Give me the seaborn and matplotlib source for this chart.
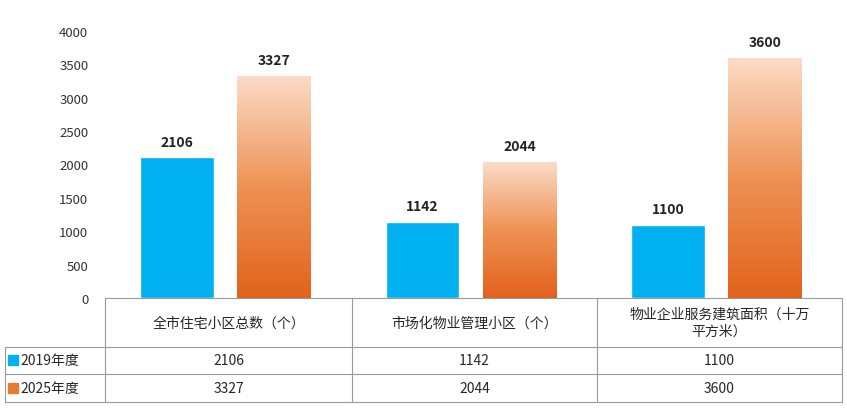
import numpy as np
import pandas as pd
import matplotlib
matplotlib.use("Agg")
import matplotlib.pyplot as plt
from matplotlib.colors import LinearSegmentedColormap
import seaborn as sns

categories = ["全市住宅小区总数（个）", "市场化物业管理小区（个）", "物业企业服务建筑面积（十万\n平方米）"]
series = ["2019年度", "2025年度"]
v2019 = [2106, 1142, 1100]
v2025 = [3327, 2044, 3600]
yticks = [0, 500, 1000, 1500, 2000, 2500, 3000, 3500, 4000]

blue = "#00B0F0"
orange = "#E87A35"
orange_cmap = LinearSegmentedColormap.from_list("og", ["#E2621B", "#EE9255", "#FCDCC8"])

sns.set_style("white")
plt.rcParams["font.family"] = ["Noto Sans CJK SC", "DejaVu Sans"]

df = pd.DataFrame({
    "cat": categories * 2,
    "series": [series[0]] * 3 + [series[1]] * 3,
    "val": v2019 + v2025,
})

fig = plt.figure(figsize=(8.47, 4.14), dpi=100)
ax = fig.add_axes([105 / 847, 1 - 299 / 414, 737 / 847, 267 / 414])
sns.barplot(data=df, x="cat", y="val", hue="series", palette=[blue, orange],
            saturation=1, width=0.75, gap=0.2, ax=ax, legend=False)
ax.set_ylim(0, 4000)
ax.set_xlim(-0.5, 2.5)
ax.set_yticks(yticks)
ax.set_yticklabels([str(t) for t in yticks], fontsize=9.5, color="#333333")
ax.set_xticks([])
ax.set_xlabel("")
ax.set_ylabel("")
ax.tick_params(axis="y", length=0, pad=12)
for s in ax.spines.values():
    s.set_visible(False)

grad = np.linspace(0, 1, 256).reshape(-1, 1)
for i, p in enumerate(list(ax.patches)):
    x0, w, h = p.get_x(), p.get_width(), p.get_height()
    if i >= 3:  # 2025 bars -> gradient fill
        p.set_facecolor("none")
        im = ax.imshow(grad, cmap=orange_cmap, aspect="auto", origin="lower",
                       extent=[x0, x0 + w, 0, h], zorder=2)
        im.set_clip_path(p)
    else:
        p.set_x(x0 - 0.02)
        x0 = x0 - 0.02
    ax.text(x0 + w / 2, h + 130, f"{int(h)}", ha="center", va="bottom",
            fontsize=10, fontweight="bold", color="#222222")
ax.set_xlim(-0.5, 2.5)
ax.set_ylim(0, 4000)

# data table below the chart
tx = fig.add_axes([0, 0, 1, 1], facecolor="none")
tx.set_xlim(0, 847)
tx.set_ylim(414, 0)
tx.axis("off")
lc = "#9a9a9a"
cols = [105, 352, 597, 842]
rows = [299, 348, 375, 403]
tx.plot([105, 842], [299, 299], color=lc, lw=0.8)
for y in rows[1:]:
    tx.plot([5, 842], [y, y], color=lc, lw=0.8)
tx.plot([5, 5], [348, 403], color=lc, lw=0.8)
for x in cols:
    tx.plot([x, x], [299, 403], color=lc, lw=0.8)
for i, c in enumerate(categories):
    cx = (cols[i] + cols[i + 1]) / 2
    tx.text(cx, 323.5, c, ha="center", va="center", fontsize=10, linespacing=1.3)
    tx.text(cx, 361.5, str(v2019[i]), ha="center", va="center", fontsize=10)
    tx.text(cx, 389, str(v2025[i]), ha="center", va="center", fontsize=10)
tx.add_patch(plt.Rectangle((8, 356), 10, 10, color=blue))
tx.add_patch(plt.Rectangle((8, 384), 10, 10, color=orange))
tx.text(20, 361.5, series[0], va="center", fontsize=10)
tx.text(20, 389, series[1], va="center", fontsize=10)

fig.savefig("out.png", dpi=100)
